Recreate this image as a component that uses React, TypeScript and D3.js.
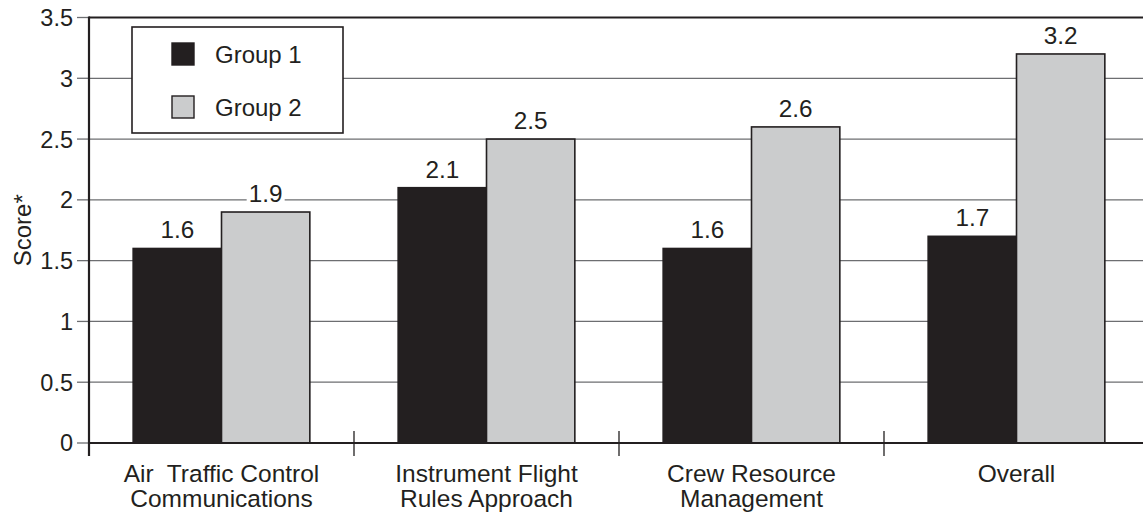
import React from "react";
import * as d3 from "d3";

const categories = [
  ["Air  Traffic Control", "Communications"],
  ["Instrument Flight", "Rules Approach"],
  ["Crew Resource", "Management"],
  ["Overall"],
];
const groups = ["Group 1", "Group 2"];
const group1 = [1.6, 2.1, 1.6, 1.7];
const group2 = [1.9, 2.5, 2.6, 3.2];
const yTicks = [0, 0.5, 1, 1.5, 2, 2.5, 3, 3.5];
const yTickLabels = ["0", "0.5", "1", "1.5", "2", "2.5", "3", "3.5"];
const yLabel = "Score*";

const W = 1143;
const H = 512;
const INK = "#231f20";
const FILLS = ["#231f20", "#cbcccd"];
const FONT = "'Liberation Sans', Arial, sans-serif";

export default function App() {
  const x = d3
    .scaleBand<number>()
    .domain(d3.range(categories.length))
    .range([89, 1149])
    .paddingInner(0)
    .paddingOuter(0);
  const inner = d3
    .scaleBand<number>()
    .domain([0, 1])
    .range([0, x.bandwidth()])
    .paddingOuter(0.5)
    .paddingInner(0);
  const y = d3.scaleLinear().domain([0, 3.5]).range([443, 17.5]);
  const series = [group1, group2];
  const boundaries = d3.range(categories.length).map((i) => x(i)!);

  return (
    <div style={{ position: "fixed", left: 0, top: 0 }}>
      <svg width={W} height={H} style={{ display: "block", background: "#fff" }} fontFamily={FONT}>
        <rect x={0} y={0} width={W} height={H} fill="#fff" />
        {/* gridlines */}
        {yTicks.slice(1, -1).map((t) => (
          <line key={t} x1={89} x2={W} y1={y(t)} y2={y(t)} stroke="#6d6e71" strokeWidth={1.3} />
        ))}
        {/* top frame line */}
        <line x1={89} x2={W} y1={y(3.5)} y2={y(3.5)} stroke={INK} strokeWidth={2.2} />
        {/* y ticks & labels */}
        {yTicks.map((t, i) => (
          <g key={t}>
            <line x1={77} x2={89} y1={y(t)} y2={y(t)} stroke="#6d6e71" strokeWidth={1.3} />
            <text x={73} y={y(t)} dy="0.36em" textAnchor="end" fontSize={23.5} fill={INK}>
              {yTickLabels[i]}
            </text>
          </g>
        ))}
        {/* bars */}
        {series.map((vals, s) =>
          vals.map((v, i) => (
            <rect
              key={`${s}-${i}`}
              x={x(i)! + inner(s)!}
              y={y(v)}
              width={inner.bandwidth()}
              height={y(0) - y(v)}
              fill={FILLS[s]}
              stroke={INK}
              strokeWidth={1.6}
            />
          ))
        )}
        {/* value labels */}
        {series.map((vals, s) =>
          vals.map((v, i) => {
            const cx = x(i)! + inner(s)! + inner.bandwidth() / 2;
            const label = d3.format(".1f")(v);
            return (
              <g key={`l-${s}-${i}`}>
                <rect x={cx - 19} y={y(v) - 30} width={38} height={20} fill="#fff" />
                <text x={cx} y={y(v) - 10} textAnchor="middle" fontSize={24.3} fill={INK}>
                  {label}
                </text>
              </g>
            );
          })
        )}
        {/* axes */}
        <line x1={89} x2={W} y1={y(0)} y2={y(0)} stroke={INK} strokeWidth={2.2} />
        <line x1={89} x2={89} y1={y(3.5) - 1} y2={456} stroke={INK} strokeWidth={2.2} />
        {boundaries.slice(1).map((b) => (
          <line key={b} x1={b} x2={b} y1={431} y2={456} stroke={INK} strokeWidth={1.3} />
        ))}
        {/* category labels */}
        {categories.map((lines, i) => (
          <text
            key={i}
            x={x(i)! + x.bandwidth() / 2}
            y={482}
            textAnchor="middle"
            fontSize={24.5}
            fill={INK}
            style={{ whiteSpace: "pre" }}
          >
            {lines.map((ln, j) => (
              <tspan key={j} x={x(i)! + x.bandwidth() / 2} y={482 + j * 25}>
                {ln}
              </tspan>
            ))}
          </text>
        ))}
        {/* y label */}
        <text
          transform={`translate(31, ${(y(0) + y(3.5)) / 2}) rotate(-90)`}
          textAnchor="middle"
          fontSize={24}
          fill={INK}
        >
          {yLabel}
        </text>
        {/* legend */}
        <rect x={132} y={27} width={211} height={106} fill="#fff" stroke={INK} strokeWidth={1.6} />
        {groups.map((g, s) => (
          <g key={g}>
            <rect x={172} y={43 + s * 53} width={22} height={22} fill={FILLS[s]} stroke={INK} strokeWidth={1.4} />
            <text x={215} y={63 + s * 53} fontSize={24} fill={INK}>
              {g}
            </text>
          </g>
        ))}
      </svg>
    </div>
  );
}
